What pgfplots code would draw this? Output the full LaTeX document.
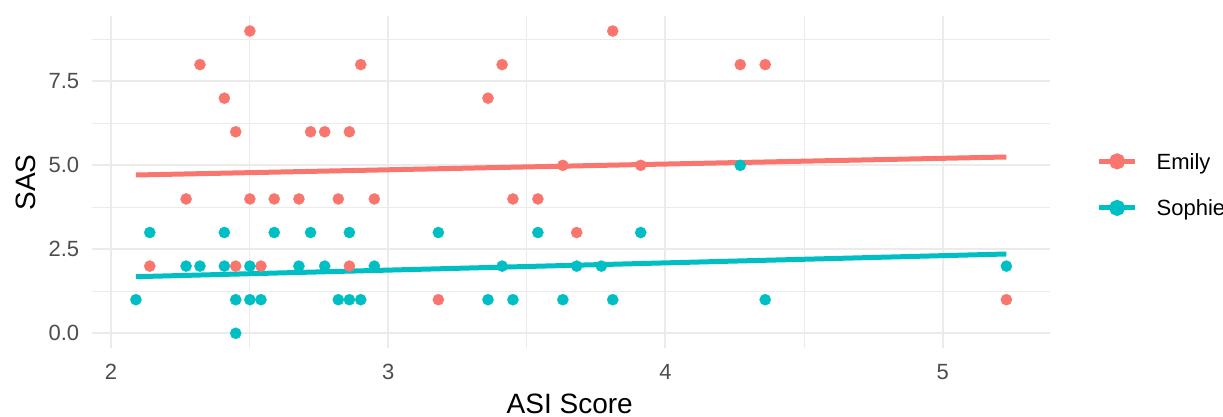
\documentclass[border=0pt]{standalone}
\usepackage{fontspec}
\setmainfont{Liberation Sans}
\usepackage{pgfplots}
\pgfplotsset{compat=1.18}
\definecolor{cEm}{HTML}{F8766D}
\definecolor{cSo}{HTML}{00BFC4}
\definecolor{gridc}{HTML}{EBEBEB}
\definecolor{tickc}{HTML}{4D4D4D}
\begin{document}
\begin{tikzpicture}
\begin{axis}[
  name=ax,
  scale only axis, width=957.5pt, height=332.5pt,
  xmin=1.933, xmax=5.387, ymin=-0.45, ymax=9.45,
  axis line style={draw=none},
  major tick length=0pt, minor tick length=0pt,
  xtick={2,3,4,5}, minor xtick={2.5,3.5,4.5},
  ytick={0,2.5,5,7.5}, yticklabels={0.0,2.5,5.0,7.5},
  minor ytick={1.25,3.75,6.25,8.75},
  grid=both,
  major grid style={draw=gridc, line width=1.9pt},
  minor grid style={draw=gridc, line width=1.0pt},
  tick label style={font=\fontsize{22}{26}\selectfont, text=tickc},
  xticklabel style={anchor=north, inner sep=0pt, yshift=-16pt},
  yticklabel style={anchor=east, inner sep=0pt, xshift=-13pt},
  /pgf/number format/assume math mode=true,
  every axis x label/.style={at={(axis description cs:0.4985,-0.1657)}, anchor=center, font=\fontsize{28}{32}\selectfont},
  every axis y label/.style={at={(axis description cs:-0.0697,0.499)}, anchor=center, rotate=90, font=\fontsize{28}{32}\selectfont},
  xlabel={ASI Score}, ylabel={SAS},
  legend cell align=left,
  legend style={at={(axis description cs:1.0488,0.4925)}, anchor=west, draw=none, fill=none,
    inner sep=0pt, outer sep=0pt, font=\fontsize{22}{26}\selectfont,
    row sep=30.5pt, column sep=19pt,
    nodes={inner sep=0pt, text height=16pt, text depth=0pt}},
  legend image code/.code={\draw[#1, line width=5pt] (0pt,0pt) -- (36pt,0pt); \fill[#1] (18pt,0pt) circle (5.5pt);},
]
% Emily points
\addplot[forget plot, cEm, only marks, mark=*, mark size=5.6pt, mark options={solid, fill=cEm, draw=cEm, line width=0.3pt}] coordinates {
(2.501,9) (3.810,9)
(2.321,8) (2.901,8) (3.411,8) (4.270,8) (4.360,8)
(2.409,7) (3.360,7)
(2.450,6) (2.720,6) (2.771,6) (2.860,6)
(3.630,5) (3.911,5)
(2.271,4) (2.501,4) (2.589,4) (2.678,4) (2.820,4) (2.950,4) (3.450,4) (3.540,4)
(3.680,3)
(2.140,2) (2.450,2) (2.541,2) (2.860,2)
(3.181,1) (5.230,1)
};
% Sophie points
\addplot[forget plot, cSo, only marks, mark=*, mark size=5.6pt, mark options={solid, fill=cSo, draw=cSo, line width=0.3pt}] coordinates {
(4.270,5)
(2.140,3) (2.409,3) (2.589,3) (2.720,3) (2.860,3) (3.181,3) (3.540,3) (3.911,3)
(2.271,2) (2.321,2) (2.409,2) (2.501,2) (2.678,2) (2.771,2) (2.950,2) (3.411,2) (3.680,2) (3.769,2) (5.230,2)
(2.090,1) (2.450,1) (2.501,1) (2.541,1) (2.820,1) (2.860,1) (2.901,1) (3.360,1) (3.450,1) (3.630,1) (3.810,1) (4.360,1)
(2.450,0)
};
\addplot[cEm, line width=5pt, mark=none] coordinates {(2.090,4.713) (5.230,5.249)};
\addlegendentry{Emily}
\addplot[cSo, line width=5pt, mark=none] coordinates {(2.090,1.685) (5.230,2.361)};
\addlegendentry{Sophie}
\end{axis}
\pgfresetboundingbox
\path[use as bounding box] (ax.south west) ++(-92.4pt,-68.6pt) rectangle ++(1223pt,417pt);
\end{tikzpicture}
\end{document}
